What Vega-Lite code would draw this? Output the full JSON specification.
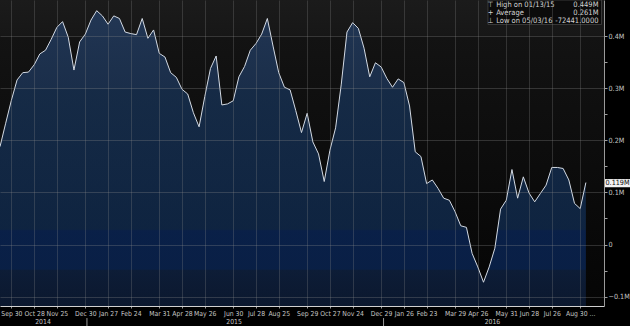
{
  "$schema": "https://vega.github.io/schema/vega-lite/v6.json",
  "width": 604,
  "height": 306,
  "autosize": {"type": "none"},
  "padding": {"left": 0, "top": 0, "right": 26, "bottom": 20},
  "background": "#000000",
  "config": {
    "view": {"stroke": null},
    "font": "Liberation Sans Narrow, DejaVu Sans Condensed, Liberation Sans, sans-serif"
  },
  "layer": [
    {
      "data": {"values": [{}]},
      "mark": {
        "type": "rect",
        "color": {
          "gradient": "linear", "x1": 0, "y1": 0, "x2": 0, "y2": 1,
          "stops": [
            {"offset": 0, "color": "#1b1b1b"},
            {"offset": 0.115, "color": "#171717"},
            {"offset": 0.12, "color": "#131313"},
            {"offset": 0.29, "color": "#101010"},
            {"offset": 1, "color": "#050505"}
          ]
        }
      },
      "encoding": {}
    },
    {
      "data": {"values": [
        {"d": "2014-09-16", "v": 0.188}, {"d": "2014-09-23", "v": 0.233}, {"d": "2014-09-30", "v": 0.277}, {"d": "2014-10-07", "v": 0.316},
        {"d": "2014-10-14", "v": 0.330}, {"d": "2014-10-21", "v": 0.331}, {"d": "2014-10-28", "v": 0.345}, {"d": "2014-11-04", "v": 0.366},
        {"d": "2014-11-11", "v": 0.373}, {"d": "2014-11-18", "v": 0.394}, {"d": "2014-11-25", "v": 0.417}, {"d": "2014-12-02", "v": 0.428},
        {"d": "2014-12-09", "v": 0.398}, {"d": "2014-12-16", "v": 0.335}, {"d": "2014-12-23", "v": 0.389}, {"d": "2014-12-30", "v": 0.404},
        {"d": "2015-01-06", "v": 0.431}, {"d": "2015-01-13", "v": 0.449}, {"d": "2015-01-20", "v": 0.439}, {"d": "2015-01-27", "v": 0.423},
        {"d": "2015-02-03", "v": 0.439}, {"d": "2015-02-10", "v": 0.434}, {"d": "2015-02-17", "v": 0.408}, {"d": "2015-02-24", "v": 0.405},
        {"d": "2015-03-03", "v": 0.403}, {"d": "2015-03-10", "v": 0.434}, {"d": "2015-03-17", "v": 0.396}, {"d": "2015-03-24", "v": 0.412},
        {"d": "2015-03-31", "v": 0.367}, {"d": "2015-04-07", "v": 0.360}, {"d": "2015-04-14", "v": 0.330}, {"d": "2015-04-21", "v": 0.321},
        {"d": "2015-04-28", "v": 0.298}, {"d": "2015-05-05", "v": 0.289}, {"d": "2015-05-12", "v": 0.253}, {"d": "2015-05-19", "v": 0.226},
        {"d": "2015-05-26", "v": 0.284}, {"d": "2015-06-02", "v": 0.338}, {"d": "2015-06-09", "v": 0.362}, {"d": "2015-06-16", "v": 0.268},
        {"d": "2015-06-23", "v": 0.270}, {"d": "2015-06-30", "v": 0.276}, {"d": "2015-07-07", "v": 0.322}, {"d": "2015-07-14", "v": 0.342},
        {"d": "2015-07-21", "v": 0.373}, {"d": "2015-07-28", "v": 0.386}, {"d": "2015-08-04", "v": 0.404}, {"d": "2015-08-11", "v": 0.434},
        {"d": "2015-08-18", "v": 0.381}, {"d": "2015-08-25", "v": 0.330}, {"d": "2015-09-01", "v": 0.302}, {"d": "2015-09-08", "v": 0.297},
        {"d": "2015-09-15", "v": 0.257}, {"d": "2015-09-22", "v": 0.215}, {"d": "2015-09-29", "v": 0.252}, {"d": "2015-10-06", "v": 0.197},
        {"d": "2015-10-13", "v": 0.174}, {"d": "2015-10-20", "v": 0.121}, {"d": "2015-10-27", "v": 0.181}, {"d": "2015-11-03", "v": 0.224},
        {"d": "2015-11-10", "v": 0.308}, {"d": "2015-11-17", "v": 0.408}, {"d": "2015-11-24", "v": 0.426}, {"d": "2015-12-01", "v": 0.415},
        {"d": "2015-12-08", "v": 0.377}, {"d": "2015-12-15", "v": 0.322}, {"d": "2015-12-22", "v": 0.349}, {"d": "2015-12-29", "v": 0.341},
        {"d": "2016-01-05", "v": 0.319}, {"d": "2016-01-12", "v": 0.302}, {"d": "2016-01-19", "v": 0.318}, {"d": "2016-01-26", "v": 0.311},
        {"d": "2016-02-02", "v": 0.266}, {"d": "2016-02-09", "v": 0.178}, {"d": "2016-02-16", "v": 0.169}, {"d": "2016-02-23", "v": 0.117},
        {"d": "2016-03-01", "v": 0.124}, {"d": "2016-03-08", "v": 0.108}, {"d": "2016-03-15", "v": 0.089}, {"d": "2016-03-22", "v": 0.085},
        {"d": "2016-03-29", "v": 0.063}, {"d": "2016-04-05", "v": 0.036}, {"d": "2016-04-12", "v": 0.033}, {"d": "2016-04-19", "v": -0.017},
        {"d": "2016-04-26", "v": -0.043}, {"d": "2016-05-03", "v": -0.0724}, {"d": "2016-05-10", "v": -0.043}, {"d": "2016-05-17", "v": -0.007},
        {"d": "2016-05-24", "v": 0.068}, {"d": "2016-05-31", "v": 0.085}, {"d": "2016-06-07", "v": 0.144}, {"d": "2016-06-14", "v": 0.089},
        {"d": "2016-06-21", "v": 0.130}, {"d": "2016-06-28", "v": 0.099}, {"d": "2016-07-05", "v": 0.082}, {"d": "2016-07-12", "v": 0.098},
        {"d": "2016-07-19", "v": 0.114}, {"d": "2016-07-26", "v": 0.148}, {"d": "2016-08-02", "v": 0.148}, {"d": "2016-08-09", "v": 0.146},
        {"d": "2016-08-16", "v": 0.124}, {"d": "2016-08-23", "v": 0.079}, {"d": "2016-08-30", "v": 0.069}, {"d": "2016-09-06", "v": 0.119}
      ]},
      "mark": {
        "type": "area",
        "interpolate": "linear",
        "color": {
          "gradient": "linear", "x1": 0, "y1": 0, "x2": 0, "y2": 1,
          "stops": [
            {"offset": 0, "color": "#26436d"},
            {"offset": 0.264, "color": "#1f3b63"},
            {"offset": 0.268, "color": "#18365d"},
            {"offset": 0.74, "color": "#112f58"},
            {"offset": 0.745, "color": "#0a2a63"},
            {"offset": 0.875, "color": "#0a2a60"},
            {"offset": 0.88, "color": "#10264b"},
            {"offset": 1, "color": "#0e2040"}
          ]
        },
        "line": {"color": "#d3dae4", "strokeWidth": 1}
      },
      "encoding": {
        "x": {
          "field": "d", "type": "temporal",
          "scale": {"type": "utc", "domain": [{"year": 2014, "month": 9, "date": 16, "utc": true}, {"year": 2016, "month": 9, "date": 28, "hours": 7, "utc": true}]},
          "axis": {
            "title": null,
            "zindex": 1,
            "tickCount": 40,
            "values": [
              {"year": 2014, "month": 9, "date": 30, "utc": true}, {"year": 2014, "month": 10, "date": 28, "utc": true},
              {"year": 2014, "month": 11, "date": 25, "utc": true}, {"year": 2014, "month": 12, "date": 30, "utc": true},
              {"year": 2015, "month": 1, "date": 27, "utc": true}, {"year": 2015, "month": 2, "date": 24, "utc": true},
              {"year": 2015, "month": 3, "date": 31, "utc": true}, {"year": 2015, "month": 4, "date": 28, "utc": true},
              {"year": 2015, "month": 5, "date": 26, "utc": true}, {"year": 2015, "month": 6, "date": 30, "utc": true},
              {"year": 2015, "month": 7, "date": 28, "utc": true}, {"year": 2015, "month": 8, "date": 25, "utc": true},
              {"year": 2015, "month": 9, "date": 29, "utc": true}, {"year": 2015, "month": 10, "date": 27, "utc": true},
              {"year": 2015, "month": 11, "date": 24, "utc": true}, {"year": 2015, "month": 12, "date": 29, "utc": true},
              {"year": 2016, "month": 1, "date": 26, "utc": true}, {"year": 2016, "month": 2, "date": 23, "utc": true},
              {"year": 2016, "month": 3, "date": 29, "utc": true}, {"year": 2016, "month": 4, "date": 26, "utc": true},
              {"year": 2016, "month": 5, "date": 31, "utc": true}, {"year": 2016, "month": 6, "date": 28, "utc": true},
              {"year": 2016, "month": 7, "date": 26, "utc": true}, {"year": 2016, "month": 8, "date": 30, "utc": true}
            ],
            "labelExpr": "utcFormat(datum.value, '%b %d') + (datum.value > 1470000000000 ? ' ...' : '')",
            "labelOverlap": false,
            "labelBound": false,
            "labelFlush": false,
            "labelColor": "#c4c4c4",
            "labelFontSize": 6.8,
            "labelPadding": 2,
            "labelBaseline": "top",
            "tickSize": 2,
            "tickColor": "#9a9a9a",
            "domainColor": "#d0d0d0",
            "domainWidth": 1,
            "grid": true,
            "gridColor": "#8a8a8a",
            "gridOpacity": 0.28
          }
        },
        "y": {
          "field": "v", "type": "quantitative",
          "scale": {"domain": [-0.118, 0.4695], "zero": false, "nice": false},
          "axis": {
            "orient": "right",
            "title": null,
            "zindex": 1,
            "tickCount": 40,
            "values": [-0.1, -0.05, 0, 0.05, 0.1, 0.15, 0.2, 0.25, 0.3, 0.35, 0.4],
            "labelExpr": "abs(round(datum.value * 20)) % 2 == 1 ? '' : (abs(datum.value) < 0.001 ? '0' : format(datum.value, '.1f') + 'M')",
            "labelOverlap": false,
            "labelColor": "#c4c4c4",
            "labelFontSize": 7.2,
            "labelPadding": 1,
            "tickSize": 3,
            "tickColor": "#a0a0a0",
            "domainColor": "#9a9a9a",
            "grid": true,
            "gridColor": "#8a8a8a",
            "gridOpacity": {"condition": {"test": "abs(round(datum.value * 20)) % 2 == 1", "value": 0}, "value": 0.3}
          }
        },
        "y2": {"datum": -0.118}
      }
    },
    {
      "data": {"values": [{"d": "2015-01-01"}, {"d": "2016-01-01"}]},
      "mark": {"type": "rule", "color": "#9a9a9a", "strokeWidth": 1},
      "encoding": {
        "x": {"field": "d", "type": "temporal", "scale": {"type": "utc", "domain": [{"year": 2014, "month": 9, "date": 16, "utc": true}, {"year": 2016, "month": 9, "date": 28, "hours": 7, "utc": true}]}},
        "y": {"datum": -0.1411, "scale": {"domain": [-0.118, 0.4695], "zero": false, "nice": false}},
        "y2": {"datum": -0.158}
      }
    },
    {
      "data": {"values": [{"d": "2014-11-07T22:00:00Z", "t": "2014"}, {"d": "2015-07-01T00:00:00Z", "t": "2015"}, {"d": "2016-05-14T00:00:00Z", "t": "2016"}]},
      "mark": {"type": "text", "color": "#c4c4c4", "fontSize": 6.8, "align": "center", "baseline": "middle"},
      "encoding": {
        "x": {"field": "d", "type": "temporal", "scale": {"type": "utc", "domain": [{"year": 2014, "month": 9, "date": 16, "utc": true}, {"year": 2016, "month": 9, "date": 28, "hours": 7, "utc": true}]}},
        "y": {"datum": -0.1488, "scale": {"domain": [-0.118, 0.4695], "zero": false, "nice": false}},
        "text": {"field": "t"}
      }
    },
    {
      "data": {"values": [{}]},
      "mark": {"type": "rect", "fill": "#0b0b0b", "stroke": "#4a4a4a", "strokeWidth": 0.7},
      "encoding": {
        "x": {"datum": {"year": 2016, "month": 5, "date": 8, "hours": 12, "utc": true}, "type": "temporal", "scale": {"type": "utc", "domain": [{"year": 2014, "month": 9, "date": 16, "utc": true}, {"year": 2016, "month": 9, "date": 28, "hours": 7, "utc": true}]}},
        "x2": {"datum": {"year": 2016, "month": 9, "date": 25, "hours": 5, "utc": true}},
        "y": {"datum": 0.4695, "scale": {"domain": [-0.118, 0.4695], "zero": false, "nice": false}},
        "y2": {"datum": 0.4225}
      }
    },
    {
      "data": {"values": [
        {"icon": "⊤", "label": "High on 01/13/15", "val": "0.449M", "row": 1},
        {"icon": "+", "label": "Average", "val": "0.261M", "row": 2},
        {"icon": "⊥", "label": "Low on 05/03/16", "val": "-72441.0000", "row": 3}
      ]},
      "transform": [{"calculate": "datum.row == 1 ? 0.4607 : (datum.row == 2 ? 0.4453 : 0.4299)", "as": "ry"}],
      "layer": [
        {
          "mark": {"type": "text", "color": "#d4d4d4", "fontSize": 7.5, "align": "center", "baseline": "middle"},
          "encoding": {
            "x": {"datum": {"year": 2016, "month": 5, "date": 11, "hours": 14, "utc": true}, "type": "temporal", "scale": {"type": "utc", "domain": [{"year": 2014, "month": 9, "date": 16, "utc": true}, {"year": 2016, "month": 9, "date": 28, "hours": 7, "utc": true}]}},
            "y": {"field": "ry", "type": "quantitative", "scale": {"domain": [-0.118, 0.4695], "zero": false, "nice": false}},
            "text": {"field": "icon"}
          }
        },
        {
          "mark": {"type": "text", "color": "#d4d4d4", "fontSize": 7.5, "align": "left", "baseline": "middle"},
          "encoding": {
            "x": {"datum": {"year": 2016, "month": 5, "date": 18, "hours": 14, "utc": true}, "type": "temporal", "scale": {"type": "utc", "domain": [{"year": 2014, "month": 9, "date": 16, "utc": true}, {"year": 2016, "month": 9, "date": 28, "hours": 7, "utc": true}]}},
            "y": {"field": "ry", "type": "quantitative", "scale": {"domain": [-0.118, 0.4695], "zero": false, "nice": false}},
            "text": {"field": "label"}
          }
        },
        {
          "mark": {"type": "text", "color": "#d4d4d4", "fontSize": 7.5, "align": "right", "baseline": "middle"},
          "encoding": {
            "x": {"datum": {"year": 2016, "month": 9, "date": 21, "hours": 12, "utc": true}, "type": "temporal", "scale": {"type": "utc", "domain": [{"year": 2014, "month": 9, "date": 16, "utc": true}, {"year": 2016, "month": 9, "date": 28, "hours": 7, "utc": true}]}},
            "y": {"field": "ry", "type": "quantitative", "scale": {"domain": [-0.118, 0.4695], "zero": false, "nice": false}},
            "text": {"field": "val"}
          }
        }
      ]
    },
    {
      "data": {"values": [{"t": "0.119M"}]},
      "layer": [
        {
          "mark": {"type": "rect", "fill": "#f2f2f2"},
          "encoding": {
            "x": {"datum": {"year": 2016, "month": 9, "date": 29, "hours": 12, "utc": true}, "type": "temporal", "scale": {"type": "utc", "domain": [{"year": 2014, "month": 9, "date": 16, "utc": true}, {"year": 2016, "month": 9, "date": 28, "hours": 7, "utc": true}]}},
            "x2": {"datum": {"year": 2016, "month": 10, "date": 30, "hours": 7, "utc": true}},
            "y": {"datum": 0.1257, "scale": {"domain": [-0.118, 0.4695], "zero": false, "nice": false}},
            "y2": {"datum": 0.1100}
          }
        },
        {
          "mark": {"type": "text", "color": "#111111", "fontSize": 7.2, "align": "center", "baseline": "middle"},
          "encoding": {
            "x": {"datum": {"year": 2016, "month": 10, "date": 14, "hours": 22, "utc": true}, "type": "temporal", "scale": {"type": "utc", "domain": [{"year": 2014, "month": 9, "date": 16, "utc": true}, {"year": 2016, "month": 9, "date": 28, "hours": 7, "utc": true}]}},
            "y": {"datum": 0.1178, "scale": {"domain": [-0.118, 0.4695], "zero": false, "nice": false}},
            "text": {"field": "t"}
          }
        }
      ]
    }
  ]
}
